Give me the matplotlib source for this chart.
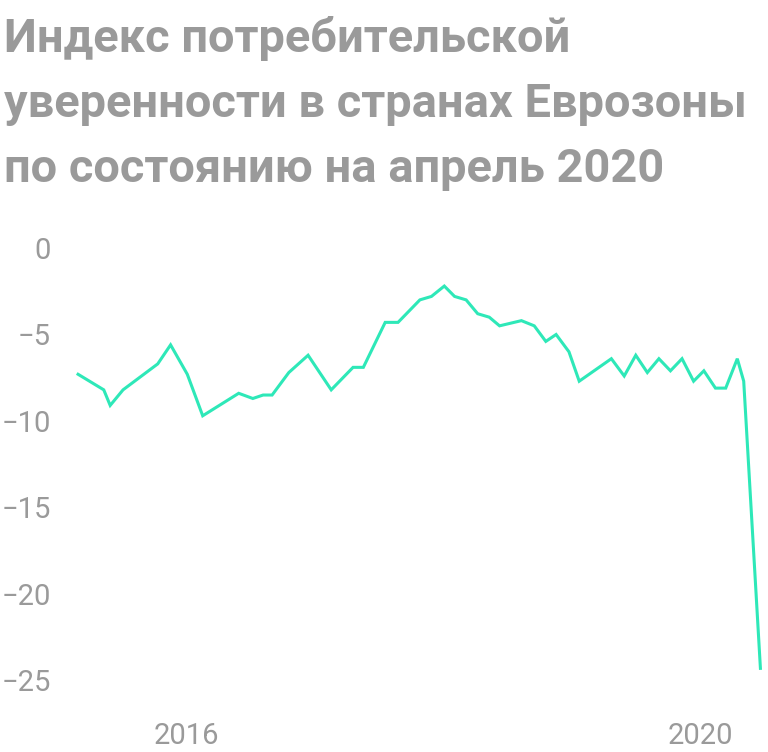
import matplotlib
matplotlib.use('Agg')
import matplotlib.pyplot as plt

# Consumer confidence index, euro area (dates as decimal years)
dates = [2015.16, 2015.36, 2015.41, 2015.51, 2015.78, 2015.88, 2016.01, 2016.13,
         2016.41, 2016.52, 2016.60, 2016.67, 2016.80, 2016.95, 2017.13, 2017.30,
         2017.38, 2017.55, 2017.65, 2017.82, 2017.91, 2018.01, 2018.09, 2018.18,
         2018.27, 2018.36, 2018.44, 2018.61, 2018.71, 2018.80, 2018.88, 2018.98,
         2019.06, 2019.31, 2019.41, 2019.50, 2019.59, 2019.68, 2019.77, 2019.86,
         2019.95, 2020.03, 2020.12, 2020.20, 2020.29, 2020.34, 2020.47]
values = [-7.3, -8.2, -9.1, -8.2, -6.7, -5.6, -7.3, -9.7,
          -8.4, -8.7, -8.5, -8.5, -7.2, -6.2, -8.2, -6.9,
          -6.9, -4.3, -4.3, -3.0, -2.8, -2.2, -2.8, -3.0,
          -3.8, -4.0, -4.5, -4.2, -4.5, -5.4, -5.0, -6.0,
          -7.7, -6.4, -7.4, -6.2, -7.2, -6.4, -7.1, -6.4,
          -7.7, -7.1, -8.1, -8.1, -6.4, -7.7, -24.3]

yticks = [0, -5, -10, -15, -20, -25]
xticks = [2016, 2020]
xlabels = ['2016', '2020']

title_lines = ['Индекс потребительской',
               'уверенности в странах Еврозоны',
               'по состоянию на апрель 2020']

grey = '#9a9a9a'
plt.rcParams['font.family'] = ['Roboto', 'DejaVu Sans']

fig = plt.figure(figsize=(7.68, 7.52), dpi=100)
ax = fig.add_axes([62/768, 1 - 700/752, 706/768, 470/752])

ax.plot(dates, values, color='#2ee8b8', lw=2.2, solid_joinstyle='miter')

ax.set_xlim(2015.035, 2020.529)
ax.set_ylim(-26.13, 1.04)
ax.set_yticks(yticks)
ax.set_xticks(xticks)
ax.set_xticklabels(xlabels)
ax.tick_params(axis='both', length=0, labelsize=21, labelcolor=grey)
ax.tick_params(axis='y', pad=8)
ax.tick_params(axis='x', pad=16)
for s in ax.spines.values():
    s.set_visible(False)

# title, one line per text so the spacing can be set
for i, line in enumerate(title_lines):
    fig.text(4/768, 1 - (52 + 65*i)/752, line, fontsize=33.8, fontweight='bold',
             color=grey, va='baseline', ha='left')

fig.savefig('out.png', dpi=100, facecolor='white')
